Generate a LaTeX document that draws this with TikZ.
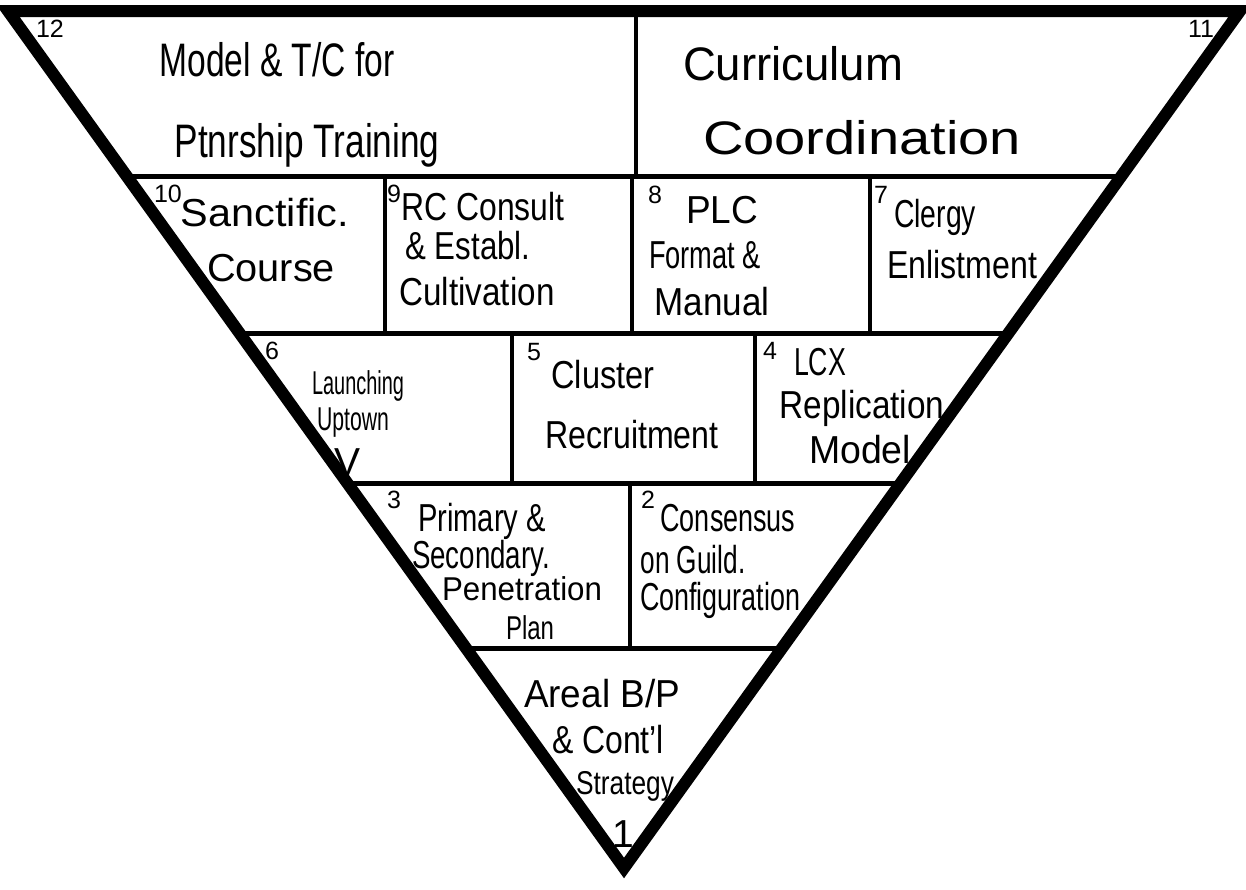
\documentclass[tikz,border=0pt]{standalone}
\usepackage{graphicx}
\usepackage{fontspec}
\setmainfont{Liberation Sans}
\newcommand{\hw}[2]{\resizebox{#1pt}{\height}{#2}}
\begin{document}
\begin{tikzpicture}[x=1pt,y=-1pt,
  outer/.style={line width=12pt,line join=miter},
  sep/.style={line width=5pt},
  div/.style={line width=4pt},
  big/.style={inner sep=0pt,font=\fontsize{47}{50}\selectfont},
  mid/.style={inner sep=0pt,font=\fontsize{39}{42}\selectfont},
  sml/.style={inner sep=0pt,font=\fontsize{33}{36}\selectfont},
  num/.style={inner sep=0pt,font=\fontsize{25}{27}\selectfont}]
\useasboundingbox (0,0) rectangle (1246,889);
% corners
\coordinate (A) at (8,11);
\coordinate (B) at (1240,11);
\coordinate (C) at (624,868);
% separator end points
\coordinate (L1) at (127,176); \coordinate (R1) at (1121,176);
\coordinate (L2) at (239,333); \coordinate (R2) at (1009,333);
\coordinate (L3) at (347,483); \coordinate (R3) at (901,483);
\coordinate (L4) at (466,648); \coordinate (R4) at (782,648);
% separators
\draw[sep] (L1) -- (R1);
\draw[sep] (L2) -- (R2);
\draw[sep] (L3) -- (R3);
\draw[sep] (L4) -- (R4);
% vertical dividers
\coordinate (d1a) at (636,11);  \coordinate (d1b) at (636,176);
\coordinate (d2a) at (385,176); \coordinate (d2b) at (385,333);
\coordinate (d3a) at (632,176); \coordinate (d3b) at (632,333);
\coordinate (d4a) at (870,176); \coordinate (d4b) at (870,333);
\coordinate (d5a) at (512,333); \coordinate (d5b) at (512,483);
\coordinate (d6a) at (755,333); \coordinate (d6b) at (755,483);
\coordinate (d7a) at (630,483); \coordinate (d7b) at (630,648);
\draw[div] (d1a) -- (d1b);
\draw[div] (d2a) -- (d2b);
\draw[div] (d3a) -- (d3b);
\draw[div] (d4a) -- (d4b);
\draw[div] (d5a) -- (d5b);
\draw[div] (d6a) -- (d6b);
\draw[div] (d7a) -- (d7b);
% outer triangle
\draw[outer] (A) -- (B) -- (C) -- cycle;
% row 1
\node[num] (n12) at (50,29) {12};
\node[big] (t12a) at (277,60) {\hw{235}{Model \& T/C for}};
\node[big] (t12b) at (307,145) {\hw{265}{Ptnrship Training}};
\node[num] (n11) at (1201,29) {11};
\node[big] (t11a) at (793,64) {\hw{220}{Curriculum}};
\node[big] (t11b) at (862,138) {\hw{318}{Coordination}};
% row 2
\node[num] (n10) at (168,194) {10};
\node[mid] (t10a) at (265,213) {\hw{168}{Sanctific.}};
\node[mid] (t10b) at (271,268) {\hw{128}{Course}};
\node[num] (n9) at (394,194) {9};
\node[mid] (t9a) at (483,207) {\hw{163}{RC Consult}};
\node[mid] (t9b) at (468,246) {\hw{125}{\& Establ.}};
\node[mid] (t9c) at (477,292) {\hw{155}{Cultivation}};
\node[num] (n8) at (655,195) {8};
\node[mid] (t8a) at (722,210) {\hw{72}{PLC}};
\node[mid] (t8b) at (705,255) {\hw{112}{Format \&}};
\node[mid] (t8c) at (712,302) {\hw{115}{Manual}};
\node[num] (n7) at (881,195) {7};
\node[mid] (t7a) at (935,217) {\hw{82}{Clergy}};
\node[mid] (t7b) at (962,265) {\hw{150}{Enlistment}};
% row 3
\node[num] (n6) at (272,351) {6};
\node[sml] (t6a) at (358,386) {\hw{92}{Launching}};
\node[sml] (t6b) at (353,423) {\hw{72}{Uptown}};
\node[mid] (t6c) at (348,462) {V};
\node[num] (n5) at (534,352) {5};
\node[mid] (t5a) at (603,375) {\hw{103}{Cluster}};
\node[mid] (t5b) at (632,435) {\hw{173}{Recruitment}};
\node[num] (n4) at (770,351) {4};
\node[mid] (t4a) at (820,362) {\hw{52}{LCX}};
\node[mid] (t4b) at (862,408) {\hw{165}{Replication}};
\node[mid] (t4c) at (860,450) {\hw{102}{Model}};
% row 4
\node[num] (n3) at (394,500) {3};
\node[mid] (t3a) at (482,521) {\hw{128}{Primary \&}};
\node[mid] (t3b) at (481,558) {\hw{138}{Secondary.}};
\node[sml] (t3c) at (522,589) {\hw{160}{Penetration}};
\node[sml] (t3d) at (530,628) {\hw{48}{Plan}};
\node[num] (n2) at (648,500) {2};
\node[mid] (t2a) at (728,518) {\hw{135}{Consensus}};
\node[mid] (t2b) at (693,560) {\hw{105}{on Guild.}};
\node[mid] (t2c) at (720,600) {\hw{160}{Configuration}};
% row 5
\node[mid] (t1a) at (602,694) {\hw{156}{Areal B/P}};
\node[mid] (t1b) at (608,740) {\hw{112}{\& Cont'l}};
\node[sml] (t1c) at (625,786) {\hw{98}{Strategy}};
\node[mid] (n1) at (623,834) {1};
\end{tikzpicture}
\end{document}
